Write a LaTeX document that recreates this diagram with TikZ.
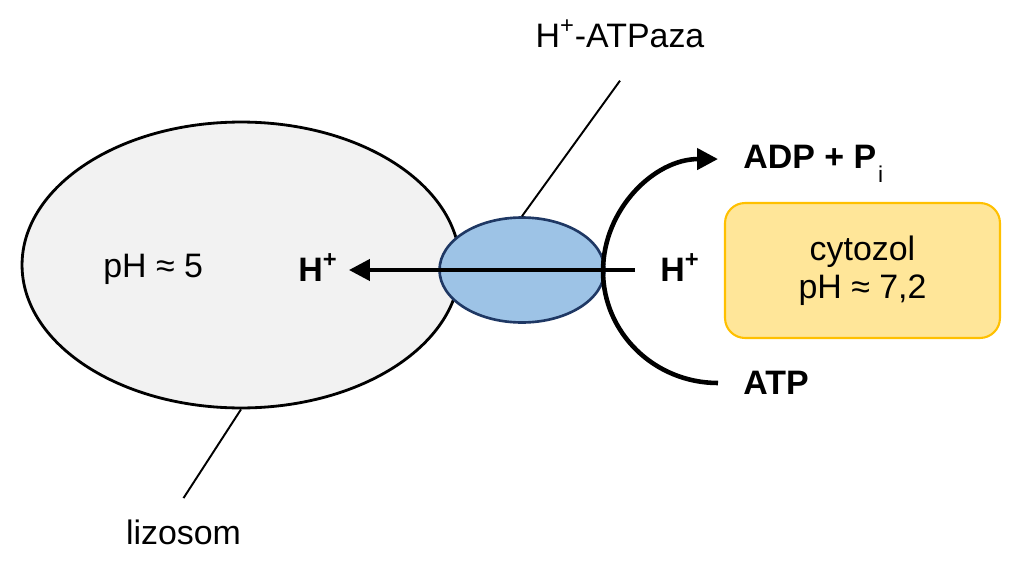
\documentclass[tikz,border=0pt]{standalone}
\usepackage{fontspec}
\setmainfont{Liberation Sans}
\usetikzlibrary{arrows.meta,shapes.geometric}
\definecolor{lysofill}{HTML}{F2F2F2}
\definecolor{pumpfill}{HTML}{9DC3E6}
\definecolor{pumpdraw}{HTML}{1F3864}
\definecolor{cytofill}{HTML}{FFE699}
\definecolor{cytodraw}{HTML}{FFC000}
\tikzset{
  txt/.style={font=\fontsize{19.3}{21.6}\selectfont,inner sep=0pt},
  btxt/.style={txt,font=\fontsize{19.3}{21.6}\selectfont\bfseries},
  arr/.style={-{Triangle[length=0.42cm,width=0.42cm]},line width=2.4pt},
  leader/.style={line width=1.1pt},
}

\begin{document}
\begin{tikzpicture}[x=0.02cm,y=-0.02cm]
  \useasboundingbox (0,0) rectangle (1022,565);
  \node[ellipse,draw,line width=1.6pt,fill=lysofill,minimum width=8.76cm,minimum height=5.72cm] (lyso) at (241,265) {};
  \node[ellipse,draw=pumpdraw,line width=1.5pt,fill=pumpfill,minimum width=3.3cm,minimum height=2.1cm] (pump) at (522,270) {};
  \node[rectangle,rounded corners=0.4cm,draw=cytodraw,line width=1.2pt,fill=cytofill,
    minimum width=5.5cm,minimum height=2.7cm,txt,align=center] (cyto) at (862.5,270.5) {cytozol\\pH ≈ 7,2};
  \node[txt,anchor=base west] (phlyso) at (103,277) {pH ≈ 5};
  \node[btxt,anchor=base west] (hin) at (298,281) {H\textsuperscript{+}};
  \node[btxt,anchor=base west] (hout) at (660,281) {H\textsuperscript{+}};
  \node[btxt,anchor=base west] (adp) at (743,168)
    {ADP + P\kern0.04cm\raisebox{-0.3cm}{\fontsize{13}{13}\selectfont\mdseries i}};
  \node[btxt,anchor=base west] (atp) at (743,394) {ATP};
  \node[txt,inner ysep=0.66cm,anchor=base] (pumplabel) at (620,47) {H\textsuperscript{+}-ATPaza};
  \node[txt,inner ysep=0.42cm,anchor=base] (lysolabel) at (183.5,544) {lizosom};
  \coordinate (pumpstart) at (635,270);
  \coordinate (arcstart) at (718,383);
  % proton transport
  \draw[arr] (pumpstart) -- ([xshift=0.22cm]hin.east |- pumpstart);
  \draw[arr,line width=2.6pt] (arcstart) arc[start angle=-90,end angle=-270,x radius=2.3cm,y radius=2.24cm];
  \draw[leader] (pump.north) -- (pumplabel.south);
  \draw[leader] (lyso.south) -- (lysolabel.north);
\end{tikzpicture}
\end{document}
